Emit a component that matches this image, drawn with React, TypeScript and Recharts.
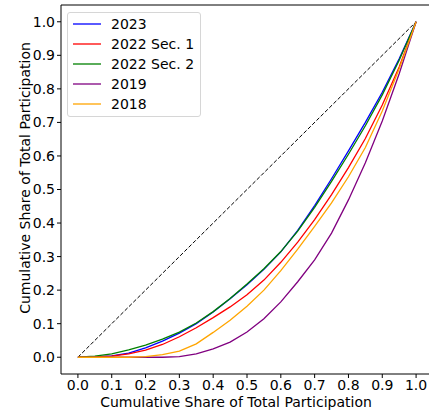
import React from 'react'
import {
    LineChart,
    Line,
    XAxis,
    YAxis,
    ReferenceLine,
} from 'recharts'

const SHARES = [0, 0.05, 0.1, 0.15, 0.2, 0.25, 0.3, 0.35, 0.4, 0.45, 0.5, 0.55, 0.6, 0.65, 0.7, 0.75, 0.8, 0.85, 0.9, 0.95, 1]

const Y2023 = [0, 0.001, 0.004, 0.012, 0.028, 0.048, 0.072, 0.1, 0.135, 0.174, 0.216, 0.262, 0.314, 0.378, 0.452, 0.532, 0.615, 0.7, 0.79, 0.89, 1]
const Y2022_S1 = [0, 0.001, 0.003, 0.01, 0.021, 0.038, 0.061, 0.088, 0.118, 0.15, 0.186, 0.23, 0.283, 0.343, 0.41, 0.485, 0.565, 0.652, 0.752, 0.865, 1]
const Y2022_S2 = [0, 0.003, 0.01, 0.022, 0.036, 0.054, 0.075, 0.102, 0.136, 0.175, 0.218, 0.264, 0.315, 0.376, 0.447, 0.524, 0.605, 0.69, 0.782, 0.885, 1]
const Y2019 = [0, 0, 0, 0, 0, 0, 0.002, 0.01, 0.025, 0.045, 0.075, 0.115, 0.165, 0.225, 0.29, 0.37, 0.469, 0.58, 0.704, 0.845, 1]
const Y2018 = [0, 0, 0, 0, 0.002, 0.008, 0.018, 0.04, 0.074, 0.11, 0.152, 0.2, 0.258, 0.322, 0.39, 0.46, 0.538, 0.625, 0.734, 0.86, 1]

const TICKS = [0, 0.1, 0.2, 0.3, 0.4, 0.5, 0.6, 0.7, 0.8, 0.9, 1]

const SERIES = [
    { key: 'y2023', name: '2023', color: '#0000ff', values: Y2023 },
    { key: 'y2022s1', name: '2022 Sec. 1', color: '#ff0000', values: Y2022_S1 },
    { key: 'y2022s2', name: '2022 Sec. 2', color: '#008000', values: Y2022_S2 },
    { key: 'y2019', name: '2019', color: '#800080', values: Y2019 },
    { key: 'y2018', name: '2018', color: '#ffa500', values: Y2018 },
]

const data = SHARES.map((x, i) => {
    const row: Record<string, number> = { x }
    SERIES.forEach(s => { row[s.key] = s.values[i] })
    return row
})

const FONT = '"DejaVu Sans", sans-serif'
const LABEL = 'Cumulative Share of Total Participation'

// legend drawn as a plain overlay so it doesn't steal plot space
function LegendBox() {
    return (
        <div style={{
            position: 'absolute',
            left: 67,
            top: 12,
            border: '1px solid #d6d6d6',
            borderRadius: 3,
            background: 'rgba(255,255,255,0.8)',
            padding: '1px 6px 2px 5px',
            fontFamily: FONT,
            fontSize: 14,
            color: '#000',
        }}>
            {SERIES.map(s => (
                <div key={s.key} style={{ display: 'flex', alignItems: 'center', height: 20 }}>
                    <svg width={28} height={4} style={{ marginRight: 10 }}>
                        <line x1={0} y1={2} x2={28} y2={2} stroke={s.color} strokeWidth={1.3} />
                    </svg>
                    <span style={{ whiteSpace: 'nowrap' }}>{s.name}</span>
                </div>
            ))}
        </div>
    )
}

export default function App() {
    return (
        <div style={{ position: 'absolute', left: 0, top: 0, width: 429, height: 413, overflow: 'hidden', background: '#fff' }}>
            <LineChart width={440} height={413} data={data} margin={{ top: 5, right: 7, bottom: 0, left: 0 }}>
                <XAxis
                    dataKey="x"
                    type="number"
                    domain={[-0.05, 1.05]}
                    allowDataOverflow
                    ticks={TICKS}
                    tickFormatter={(v: number) => v.toFixed(1)}
                    height={39}
                    stroke="#000"
                    tickSize={4}
                    tickMargin={2}
                    tick={{ fill: '#000', fontSize: 14, fontFamily: FONT }}
                    label={{
                        content: () => (
                            <text x={236} y={406.5} textAnchor="middle" fontSize={14} fontFamily={FONT} fill="#000">{LABEL}</text>
                        ),
                    }}
                />
                <YAxis
                    type="number"
                    domain={[-0.05, 1.05]}
                    allowDataOverflow
                    ticks={TICKS}
                    tickFormatter={(v: number) => v.toFixed(1)}
                    width={61}
                    stroke="#000"
                    tickSize={4}
                    tickMargin={2}
                    tick={{ fill: '#000', fontSize: 14, fontFamily: FONT }}
                    label={{
                        content: () => (
                            <text x={30} y={178} transform="rotate(-90 30 178)" textAnchor="middle" fontSize={14} fontFamily={FONT} fill="#000">{LABEL}</text>
                        ),
                    }}
                />
                <ReferenceLine y={1.05} stroke="#000" strokeWidth={1} />
                <ReferenceLine x={1.05} stroke="#000" strokeWidth={1} />
                <ReferenceLine
                    segment={[{ x: 0, y: 0 }, { x: 1, y: 1 }]}
                    stroke="#000"
                    strokeWidth={1}
                    strokeDasharray="4 2"
                />
                {SERIES.map(s => (
                    <Line
                        key={s.key}
                        dataKey={s.key}
                        name={s.name}
                        type="linear"
                        stroke={s.color}
                        strokeWidth={1.3}
                        dot={false}
                        isAnimationActive={false}
                    />
                ))}
            </LineChart>
            <LegendBox />
        </div>
    )
}
